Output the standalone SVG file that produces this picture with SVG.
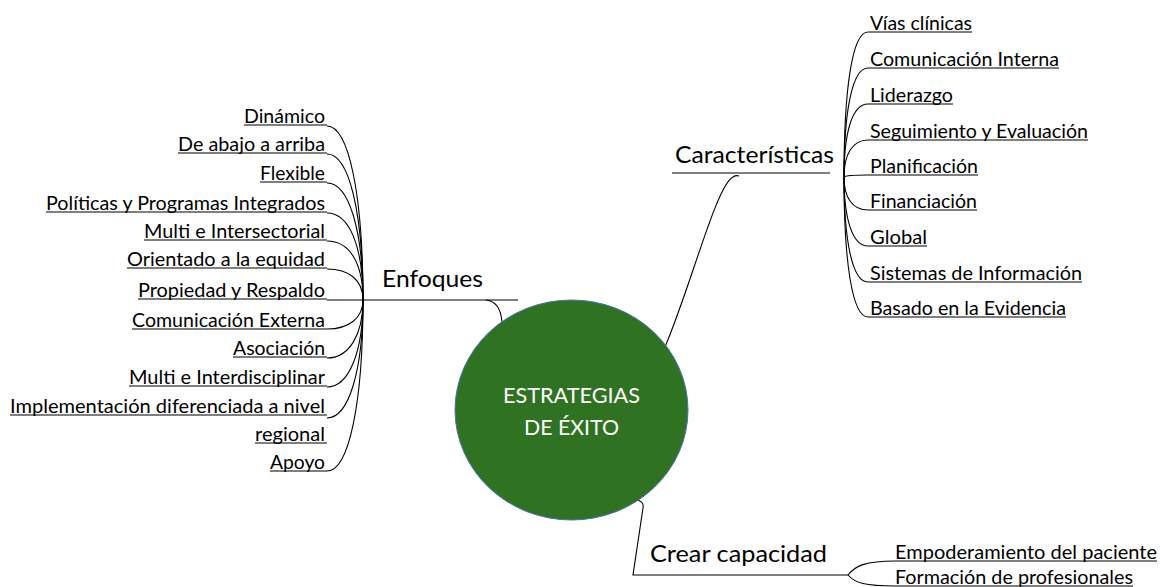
<svg xmlns="http://www.w3.org/2000/svg" width="1160" height="587" viewBox="0 0 1160 587">
<style>
.lbl{font-family:Lato,"Liberation Sans",sans-serif;font-size:19px;fill:#000}
.ttl{font-family:Lato,"Liberation Sans",sans-serif;font-size:22.5px;fill:#000}
.ctr{font-family:Lato,"Liberation Sans",sans-serif;font-size:21px;fill:#fff;text-anchor:middle}
.ul{stroke:#000;stroke-width:1.2}
.con{fill:none;stroke:#000;stroke-width:1.1}
.r{text-anchor:end}
</style>
<rect width="1160" height="587" fill="#fff"/>
<g id="connectors">
  <path class="con" d="M486,300 C496,301 501,310 502,322"/>
  <path class="con" d="M665,347 C692,283 716,186 733,177 Q736,175 739,176"/>
  <path class="con" d="M635,500 C641,500 644,503 643,508 L633,575 L848,575"/>
  <line class="con" x1="327" y1="300" x2="518" y2="300"/>
  <line class="con" x1="672" y1="173" x2="830" y2="173"/>
  <path class="con" d="M327,126 C349,126 363,196 363,300"/>
  <path class="con" d="M327,154 C349,154 363,212 363,300"/>
  <path class="con" d="M327,183 C349,183 363,230 363,300"/>
  <path class="con" d="M327,213 C349,213 363,245 363,300"/>
  <path class="con" d="M327,241 C349,241 363,262 363,300"/>
  <path class="con" d="M327,269 C349,269 363,280 363,300"/>
  <path class="con" d="M327,329 C349,329 363,318 363,300"/>
  <path class="con" d="M327,358 C349,358 363,335 363,300"/>
  <path class="con" d="M327,387 C349,387 363,352 363,300"/>
  <path class="con" d="M327,418 C349,418 363,370 363,300"/>
  <path class="con" d="M327,471 C349,471 363,403 363,300"/>
  <path class="con" d="M844,177 C844,90 852,32 868,32"/>
  <path class="con" d="M844,177 C844,112 852,68 868,68"/>
  <path class="con" d="M844,177 C844,133 852,104 868,104"/>
  <path class="con" d="M844,177 C844,155 852,140 868,140"/>
  <path class="con" d="M844,177 C845,176 852,175 868,175"/>
  <path class="con" d="M844,177 C844,197 852,210 868,210"/>
  <path class="con" d="M844,177 C844,218 852,246 868,246"/>
  <path class="con" d="M844,177 C844,240 852,282 868,282"/>
  <path class="con" d="M844,177 C844,261 852,317 868,317"/>
  <path class="con" d="M848,575 C855,566 865,561 895,561"/>
  <path class="con" d="M848,575 C855,583 865,586 895,586"/>
</g>
<g id="center">
  <ellipse cx="571.5" cy="410" rx="116.5" ry="110" fill="#2f7322" stroke="#4a72b5" stroke-width="1"/>
  <text class="ctr" x="571.5" y="403" textLength="137" lengthAdjust="spacingAndGlyphs">ESTRATEGIAS</text>
  <text class="ctr" x="571.5" y="435" textLength="95" lengthAdjust="spacingAndGlyphs">DE ÉXITO</text>
</g>
<g id="enfoques">
  <text class="ttl" x="382" y="287" textLength="101" lengthAdjust="spacingAndGlyphs">Enfoques</text>
</g>
<g id="caracteristicas">
  <text class="ttl" x="675" y="163" textLength="159" lengthAdjust="spacingAndGlyphs">Características</text>
</g>
<g id="crear-capacidad">
  <text class="ttl" x="650" y="562" textLength="177" lengthAdjust="spacingAndGlyphs">Crear capacidad</text>
</g>
<g id="dinamico"><text class="lbl r" x="325" y="123" textLength="81" lengthAdjust="spacingAndGlyphs">Dinámico</text><line class="ul" x1="244" y1="125" x2="327" y2="125"/></g>
<g id="de-abajo"><text class="lbl r" x="325" y="151" textLength="147" lengthAdjust="spacingAndGlyphs">De abajo a arriba</text><line class="ul" x1="178" y1="153" x2="327" y2="153"/></g>
<g id="flexible"><text class="lbl r" x="325" y="180" textLength="65" lengthAdjust="spacingAndGlyphs">Flexible</text><line class="ul" x1="260" y1="182" x2="327" y2="182"/></g>
<g id="politicas"><text class="lbl r" x="325" y="210" textLength="279" lengthAdjust="spacingAndGlyphs">Políticas y Programas Integrados</text><line class="ul" x1="46" y1="212" x2="327" y2="212"/></g>
<g id="multi-intersectorial"><text class="lbl r" x="325" y="238" textLength="181" lengthAdjust="spacingAndGlyphs">Multi e Intersectorial</text><line class="ul" x1="144" y1="240" x2="327" y2="240"/></g>
<g id="orientado"><text class="lbl r" x="325" y="266" textLength="198" lengthAdjust="spacingAndGlyphs">Orientado a la equidad</text><line class="ul" x1="127" y1="268" x2="327" y2="268"/></g>
<g id="propiedad"><text class="lbl r" x="325" y="297" textLength="187" lengthAdjust="spacingAndGlyphs">Propiedad y Respaldo</text><line class="ul" x1="138" y1="299" x2="327" y2="299"/></g>
<g id="comunicacion-externa"><text class="lbl r" x="325" y="327" textLength="193" lengthAdjust="spacingAndGlyphs">Comunicación Externa</text><line class="ul" x1="132" y1="329" x2="327" y2="329"/></g>
<g id="asociacion"><text class="lbl r" x="325" y="355" textLength="92" lengthAdjust="spacingAndGlyphs">Asociación</text><line class="ul" x1="233" y1="357" x2="327" y2="357"/></g>
<g id="multi-interdisciplinar"><text class="lbl r" x="325" y="384" textLength="196" lengthAdjust="spacingAndGlyphs">Multi e Interdisciplinar</text><line class="ul" x1="129" y1="386" x2="327" y2="386"/></g>
<g id="implementacion">
  <text class="lbl r" x="325" y="413" textLength="315" lengthAdjust="spacingAndGlyphs">Implementación diferenciada a nivel</text><line class="ul" x1="10" y1="415" x2="327" y2="415"/>
  <text class="lbl r" x="325" y="441" textLength="70" lengthAdjust="spacingAndGlyphs">regional</text><line class="ul" x1="255" y1="443" x2="327" y2="443"/>
</g>
<g id="apoyo"><text class="lbl r" x="325" y="469" textLength="55" lengthAdjust="spacingAndGlyphs">Apoyo</text><line class="ul" x1="270" y1="471" x2="327" y2="471"/></g>
<g id="vias"><text class="lbl" x="870" y="30" textLength="102" lengthAdjust="spacingAndGlyphs">Vías clínicas</text><line class="ul" x1="868" y1="32" x2="972" y2="32"/></g>
<g id="comunicacion-interna"><text class="lbl" x="870" y="66" textLength="189" lengthAdjust="spacingAndGlyphs">Comunicación Interna</text><line class="ul" x1="868" y1="68" x2="1059" y2="68"/></g>
<g id="liderazgo"><text class="lbl" x="870" y="102" textLength="83" lengthAdjust="spacingAndGlyphs">Liderazgo</text><line class="ul" x1="868" y1="104" x2="953" y2="104"/></g>
<g id="seguimiento"><text class="lbl" x="870" y="138" textLength="218" lengthAdjust="spacingAndGlyphs">Seguimiento y Evaluación</text><line class="ul" x1="868" y1="140" x2="1088" y2="140"/></g>
<g id="planificacion"><text class="lbl" x="870" y="173" textLength="108" lengthAdjust="spacingAndGlyphs">Planificación</text><line class="ul" x1="868" y1="175" x2="978" y2="175"/></g>
<g id="financiacion"><text class="lbl" x="870" y="208" textLength="107" lengthAdjust="spacingAndGlyphs">Financiación</text><line class="ul" x1="868" y1="210" x2="977" y2="210"/></g>
<g id="global"><text class="lbl" x="870" y="244" textLength="57" lengthAdjust="spacingAndGlyphs">Global</text><line class="ul" x1="868" y1="246" x2="927" y2="246"/></g>
<g id="sistemas"><text class="lbl" x="870" y="280" textLength="212" lengthAdjust="spacingAndGlyphs">Sistemas de Información</text><line class="ul" x1="868" y1="282" x2="1082" y2="282"/></g>
<g id="basado"><text class="lbl" x="870" y="315" textLength="196" lengthAdjust="spacingAndGlyphs">Basado en la Evidencia</text><line class="ul" x1="868" y1="317" x2="1066" y2="317"/></g>
<g id="empoderamiento"><text class="lbl" x="895" y="559" textLength="262" lengthAdjust="spacingAndGlyphs">Empoderamiento del paciente</text><line class="ul" x1="895" y1="561" x2="1157" y2="561"/></g>
<g id="formacion"><text class="lbl" x="895" y="584" textLength="238" lengthAdjust="spacingAndGlyphs">Formación de profesionales</text><line class="ul" x1="895" y1="586" x2="1133" y2="586"/></g>
</svg>
